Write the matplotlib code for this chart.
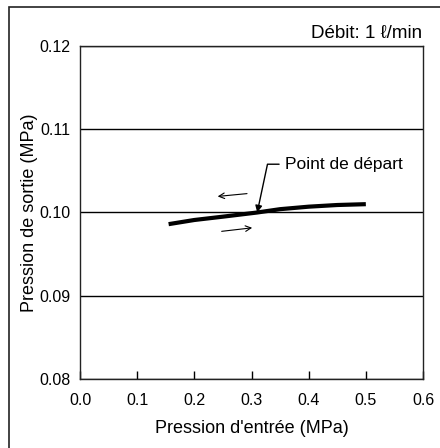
import matplotlib
matplotlib.use('Agg')
import matplotlib.pyplot as plt
from matplotlib.patches import Rectangle

plt.rcParams['font.family'] = ['Liberation Sans', 'DejaVu Sans']

# données
p_entree = [0.155, 0.20, 0.25, 0.31, 0.35, 0.40, 0.45, 0.50]
p_sortie = [0.0986, 0.0991, 0.0995, 0.1000, 0.1004, 0.1007, 0.1009, 0.1010]
x_ticks = [0.0, 0.1, 0.2, 0.3, 0.4, 0.5, 0.6]
y_ticks = [0.08, 0.09, 0.10, 0.11, 0.12]
point_depart = (0.31, 0.1000)

fig = plt.figure(figsize=(4.4, 4.48), dpi=100)
ax = fig.add_axes([80 / 440, 1 - 379 / 448, 343 / 440, 333 / 448])

ax.plot(p_entree, p_sortie, color='black', lw=3, solid_capstyle='butt')

# flèches de sens de variation
ax.annotate('', xy=(0.236, 0.1019), xytext=(0.297, 0.1023),
            arrowprops=dict(arrowstyle='->', lw=0.8, color='black'))
ax.annotate('', xy=(0.306, 0.0982), xytext=(0.243, 0.0977),
            arrowprops=dict(arrowstyle='->', lw=0.8, color='black'))

ax.annotate('Point de départ', xy=point_depart, xytext=(0.358, 0.1058),
            fontsize=12.5, va='center', ha='left',
            arrowprops=dict(arrowstyle='-|>', lw=1, color='black',
                            shrinkA=2, shrinkB=0, mutation_scale=10,
                            connectionstyle='angle,angleA=180,angleB=78,rad=0'))

ax.set_xlim(0, 0.6)
ax.set_ylim(0.08, 0.12)
ax.set_xticks(x_ticks)
ax.set_xticklabels([f'{v:.1f}' for v in x_ticks])
ax.set_yticks(y_ticks)
ax.set_yticklabels([f'{v:.2f}' for v in y_ticks])
ax.tick_params(axis='x', direction='in', length=6, width=1, pad=10, labelsize=11.5)
ax.tick_params(axis='y', length=0, pad=7, labelsize=11.5)
ax.grid(axis='y', color='black', lw=1)
for s in ax.spines.values():
    s.set_linewidth(1)
    s.set_color('#222222')

ax.set_xlabel("Pression d'entrée (MPa)", fontsize=13, labelpad=9)
ax.set_ylabel('Pression de sortie (MPa)', fontsize=13, labelpad=1)

fig.text(422 / 440, 1 - 33 / 448, 'Débit: 1 ℓ/min', ha='right', va='center',
         fontsize=13.5, family=['Liberation Sans', 'DejaVu Sans'])

# cadre extérieur (coupé à droite et en bas)
fig.patches.append(Rectangle((8.5 / 440, -0.5), 2, 0.5 + 1 - 7 / 448,
                             transform=fig.transFigure, fill=False,
                             edgecolor='#222222', lw=1.2))

fig.savefig('out.png', dpi=100)
